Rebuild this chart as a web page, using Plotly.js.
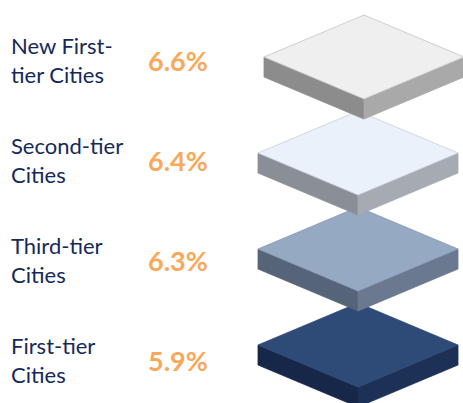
<!DOCTYPE html>
<html>
<head>
<meta charset="utf-8">
<script src="https://cdn.plot.ly/plotly-3.0.1.min.js"></script>
<style>
  html, body { margin: 0; padding: 0; background: #ffffff; }
  #chart { width: 463px; height: 403px; }
</style>
</head>
<body>
<div id="chart"></div>
<script>
// City tiers and their growth rate, top to bottom
var tierLabels = ['New First-<br>tier Cities', 'Second-tier<br>Cities', 'Third-tier<br>Cities', 'First-tier<br>Cities'];
var growthRate = [6.6, 6.4, 6.3, 5.9];

// plate colours: top face, left side, right side, edge
var plateColors = [
    ['#efefef', '#8c8c8c', '#a9a9a9', '#c4c4c4'],
    ['#eaf1fb', '#8a8e97', '#a6aab2', '#c9ced6'],
    ['#96a9c3', '#566479', '#6a798f', '#8698b1'],
    ['#2e4a77', '#17274a', '#1d3157', '#2e4a77']
];

function plateTraces(i) {
    var cx = i === 0 ? 364 : 358;
    var cy = 57 + i * 96;
    var w = 100, h = 42, t = 20;
    var c = plateColors[i];
    var face = function (xs, ys, fill, line) {
        return {
            x: xs, y: ys,
            mode: 'lines',
            fill: 'toself',
            fillcolor: fill,
            line: { color: line, width: 0.8 },
            hoverinfo: 'skip',
            showlegend: false
        };
    };
    return [
        face([cx - w, cx, cx, cx - w, cx - w], [cy, cy + h, cy + h + t, cy + t, cy], c[1], c[1]),
        face([cx, cx + w, cx + w, cx, cx], [cy + h, cy, cy + t, cy + h + t, cy + h], c[2], c[2]),
        face([cx, cx + w, cx, cx - w, cx], [cy - h, cy, cy + h, cy, cy - h], c[0], c[3])
    ];
}

var data = [];
// draw bottom plate first so upper plates sit on top
for (var i = growthRate.length - 1; i >= 0; i--) {
    data = data.concat(plateTraces(i));
}

var annotations = [];
for (var j = 0; j < growthRate.length; j++) {
    var ty = 60 + j * 100;
    annotations.push({
        x: 9, y: ty, xref: 'x', yref: 'y',
        xanchor: 'left', yanchor: 'middle', align: 'left',
        text: tierLabels[j],
        showarrow: false,
        font: { family: 'Lato, sans-serif', size: 22, color: '#15295b' }
    });
    annotations.push({
        x: 178, y: ty, xref: 'x', yref: 'y',
        xanchor: 'center', yanchor: 'middle',
        text: growthRate[j].toFixed(1) + '%',
        showarrow: false,
        font: { family: 'Lato, sans-serif', size: 27, color: '#f9a85a', weight: 'bold' }
    });
}

var layout = {
    width: 463,
    height: 403,
    margin: { l: 0, r: 0, t: 0, b: 0, pad: 0 },
    paper_bgcolor: '#ffffff',
    plot_bgcolor: '#ffffff',
    xaxis: { range: [0, 463], visible: false, fixedrange: true },
    yaxis: { range: [403, 0], visible: false, fixedrange: true },
    annotations: annotations,
    showlegend: false
};

Plotly.newPlot('chart', data, layout, { displayModeBar: false, staticPlot: true });
</script>
</body>
</html>
